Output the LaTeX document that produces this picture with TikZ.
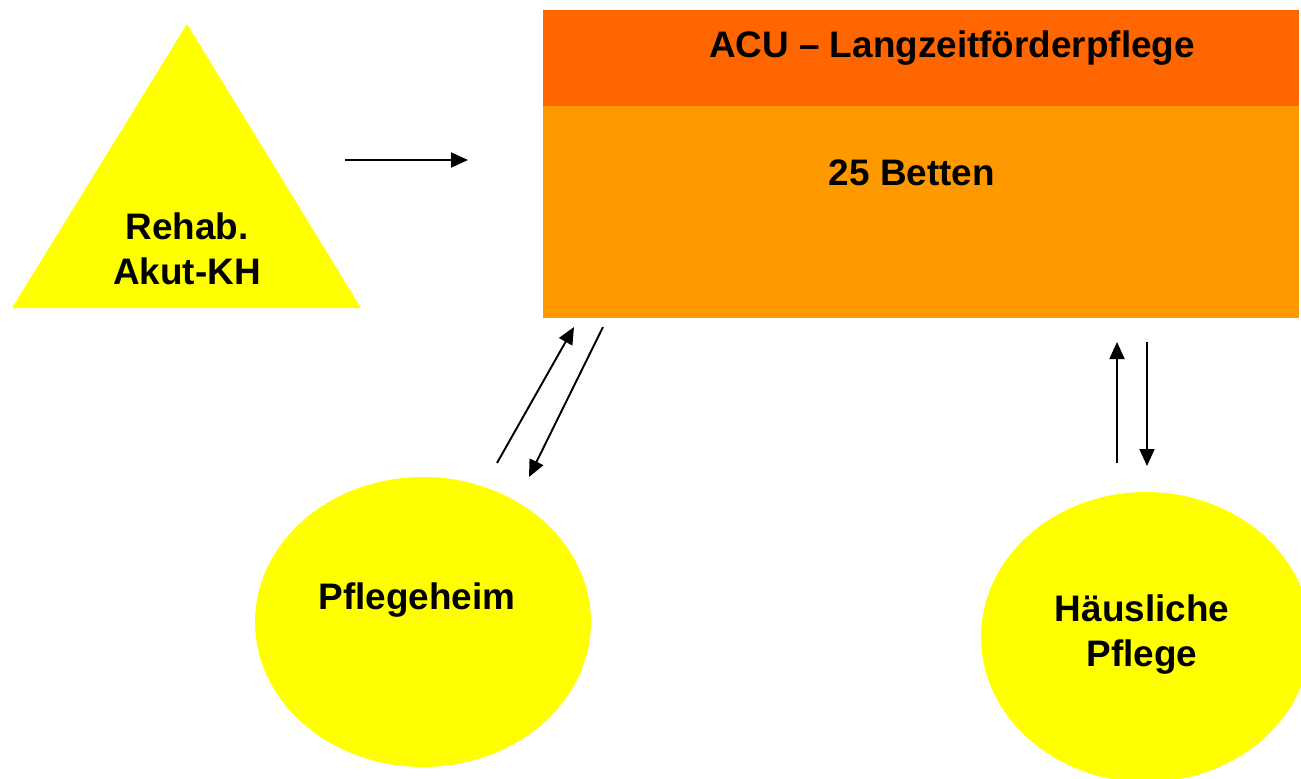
\documentclass[tikz,border=0pt]{standalone}
\usepackage{fontspec}
\setmainfont{Liberation Sans}
\usetikzlibrary{arrows.meta,shapes.geometric}
\definecolor{acuhead}{HTML}{FF6600}
\definecolor{acubody}{HTML}{FF9900}
\definecolor{pale}{HTML}{FFFF00}
\tikzset{
    >={Triangle[length=0.34cm,width=0.3cm]},
    every edge/.append style={line width=1.1pt},
    txt/.append style={font=\fontsize{21}{25.6}\selectfont\bfseries,align=center,inner sep=0pt},
}

\begin{document}
\begin{tikzpicture}[x=0.02cm,y=-0.02cm,blob/.style={ellipse,fill=pale,inner sep=0pt,minimum height=5.8cm}]
\useasboundingbox (0,0) rectangle (1301,778);

% ACU block
\fill[acubody] (543,106) rectangle (1299,318);
\fill[acuhead] (543,10) rectangle (1299,106);
\node[txt,anchor=base] (acu) at (952,57) {ACU – Langzeitförderpflege};
\node[txt,anchor=base] (betten) at (912,185) {25 Betten};

% Rehab / Akut-KH
\fill[pale] (187,24) -- (361,308) -- (12,308) -- cycle;
\node[txt] (rehab) at (187,249) {Rehab.\\Akut-KH};

% Pflegeheim, Haeusliche Pflege
\node[blob,minimum width=6.72cm] (heim) at (423,622) {};
\node[txt,anchor=base] (heimtxt) at (417,609) {Pflegeheim};
\node[blob,minimum width=6.6cm] (haus) at (1146,637) {};
\node[txt] (haustxt) at (1142,635) {Häusliche\\Pflege};

\coordinate (r1) at (345,160);  \coordinate (r2) at (468,160);
\coordinate (h1) at (497,463);  \coordinate (h2) at (574,327);
\coordinate (h3) at (603,327);  \coordinate (h4) at (529,477);
\coordinate (p1) at (1117,463); \coordinate (p2) at (1117,342);
\coordinate (p3) at (1147,342); \coordinate (p4) at (1147,466);

\path (r1) edge[->] (r2)
      (h1) edge[->] (h2)
      (h3) edge[->] (h4)
      (p1) edge[->] (p2)
      (p3) edge[->] (p4);

\end{tikzpicture}
\end{document}
